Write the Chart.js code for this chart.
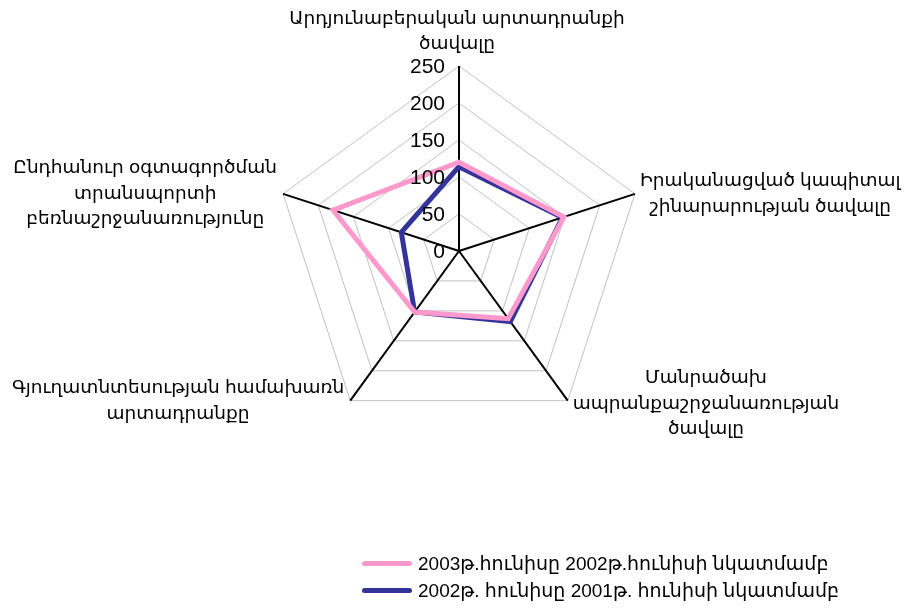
<!DOCTYPE html>
<html>
<head>
<meta charset="utf-8">
<script src="https://cdn.jsdelivr.net/npm/chart.js@4"></script>
<style>
  body { margin: 0; background: #fff; }
  #wrap { position: relative; width: 906px; height: 614px; }
  #legend { position: absolute; left: 362px; top: 550px; font: 19px 'Liberation Sans', 'DejaVu Sans', sans-serif; color: #000; }
  .row { display: flex; align-items: center; height: 27px; }
  .swatch { width: 50px; height: 5px; border-radius: 3px; margin-right: 6px; }
</style>
</head>
<body>
<div id="wrap">
  <canvas id="radar" width="906" height="614"></canvas>
  <div id="legend"></div>
</div>
<script>
// axis names (multi-line)
const categories = [
    ['Արդյունաբերական արտադրանքի', 'ծավալը'],
    ['Իրականացված կապիտալ', 'շինարարության ծավալը'],
    ['Մանրածախ', 'ապրանքաշրջանառության', 'ծավալը'],
    ['Գյուղատնտեսության համախառն', 'արտադրանքը'],
    ['Ընդհանուր օգտագործման', 'տրանսպորտի', 'բեռնաշրջանառությունը']
];
const seriesNames = ['2003թ.հունիսը 2002թ.հունիսի նկատմամբ', '2002թ. հունիսը 2001թ. հունիսի նկատմամբ'];
const values2003 = [120, 149, 113, 102, 179];
const values2002 = [114, 147, 118, 102, 82];
const tickValues = [0, 50, 100, 150, 200, 250];

const FONT = "'Liberation Sans', 'DejaVu Sans', sans-serif";
const LINE_H = 25.5;

// tick labels left of the vertical axis, axis names placed like in Excel
const labelPlugin = {
    id: 'labelPlugin',
    afterDraw(chart) {
        const scale = chart.scales.r;
        const ctx = chart.ctx;
        ctx.save();
        ctx.fillStyle = '#000';
        ctx.font = '21px ' + FONT;
        ctx.textAlign = 'right';
        ctx.textBaseline = 'middle';
        tickValues.forEach(v => {
            const d = scale.getDistanceFromCenterForValue(v);
            ctx.fillText(String(v), scale.xCenter - 14, scale.yCenter - d + 1);
        });

        ctx.font = '18.5px ' + FONT;
        ctx.textAlign = 'center';
        ctx.textBaseline = 'middle';
        categories.forEach((lines, i) => {
            const tip = scale.getPointPosition(i, scale.drawingArea);
            const blockW = Math.max(...lines.map(t => ctx.measureText(t).width));
            const blockH = lines.length * LINE_H;
            let cx, top;
            if (Math.abs(tip.x - scale.xCenter) < 1) {
                cx = tip.x - 2;
                top = tip.y - 9 - blockH;
            } else if (tip.x > scale.xCenter) {
                cx = tip.x + 5 + blockW / 2;
                top = tip.y - blockH / 2 + (tip.y > scale.yCenter ? 3 : 0);
            } else {
                cx = tip.x - 6 - blockW / 2;
                top = tip.y - blockH / 2;
            }
            lines.forEach((t, j) => ctx.fillText(t, cx, top + (j + 0.5) * LINE_H));
        });
        ctx.restore();
    }
};

const chart = new Chart(document.getElementById('radar'), {
    type: 'radar',
    data: {
        labels: categories,
        datasets: [
            {
                label: seriesNames[0],
                data: values2003,
                borderColor: '#ff99cc',
                borderWidth: 5,
                fill: false,
                pointRadius: 0,
                tension: 0
            },
            {
                label: seriesNames[1],
                data: values2002,
                borderColor: '#333399',
                borderWidth: 5,
                fill: false,
                pointRadius: 0,
                tension: 0
            }
        ]
    },
    options: {
        responsive: false,
        animation: false,
        // chart area sized so the radar gets the same radius and centre as the original
        layout: { padding: { top: 66, bottom: 178, left: 274, right: 262 } },
        plugins: {
            legend: { display: false },
            tooltip: { enabled: false }
        },
        scales: {
            r: {
                min: 0,
                max: 250,
                ticks: { stepSize: 50, display: false },
                grid: { color: '#c0c0c0', lineWidth: 1 },
                angleLines: { color: '#000', lineWidth: 2 },
                pointLabels: { display: false }
            }
        }
    },
    plugins: [labelPlugin]
});

// legend rows
const legend = document.getElementById('legend');
chart.data.datasets.forEach(ds => {
    const row = document.createElement('div');
    row.className = 'row';
    row.innerHTML = '<span class="swatch" style="background:' + ds.borderColor + '"></span><span>' + ds.label + '</span>';
    legend.appendChild(row);
});
</script>
</body>
</html>
